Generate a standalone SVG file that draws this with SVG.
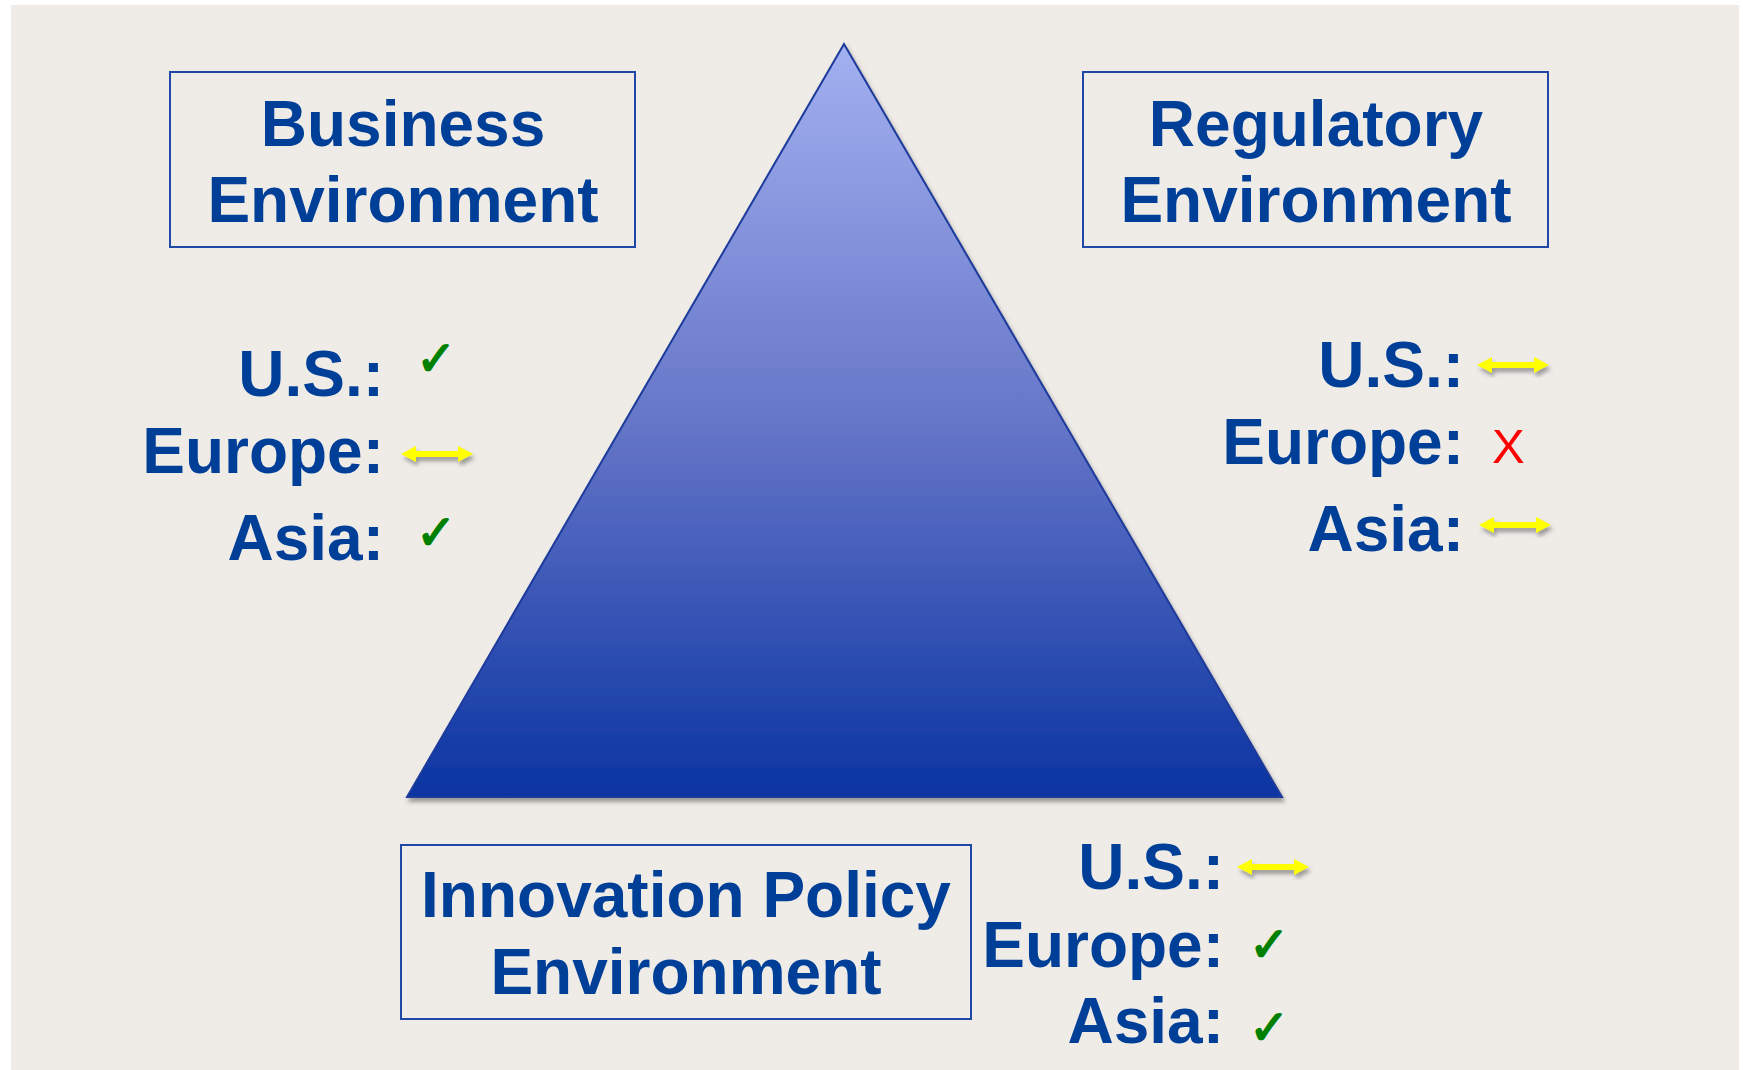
<svg xmlns="http://www.w3.org/2000/svg" width="1743" height="1070" viewBox="0 0 1743 1070">
  <defs>
    <linearGradient id="pyramidFill" x1="0" y1="0" x2="0" y2="1">
      <stop offset="0" stop-color="#A3B0F0"/>
      <stop offset="0.5" stop-color="#6676C8"/>
      <stop offset="1" stop-color="#0A34A2"/>
    </linearGradient>
    <filter id="dropShadow" x="-10%" y="-10%" width="130%" height="140%">
      <feGaussianBlur in="SourceAlpha" stdDeviation="2"/>
      <feOffset dx="2" dy="4" result="blur"/>
      <feFlood flood-color="#555" flood-opacity="0.55"/>
      <feComposite in2="blur" operator="in"/>
      <feMerge>
        <feMergeNode/>
        <feMergeNode in="SourceGraphic"/>
      </feMerge>
    </filter>
    <!-- yellow double-headed "neutral" arrow, centred on its origin -->
    <path id="both" d="M-36,0 L-21,-8 L-21,-3 L21,-3 L21,-8 L36,0 L21,8 L21,3 L-21,3 L-21,8 Z"/>
    <style>
      .box { fill: none; stroke: #2148A6; stroke-width: 2; }
      .title { font-family: "Liberation Sans", Arial, sans-serif; font-weight: bold; font-size: 64px; fill: #003F98; text-anchor: middle; }
      .label { font-family: "Liberation Sans", Arial, sans-serif; font-weight: bold; font-size: 64px; fill: #003F98; text-anchor: end; }
      .check { font-family: "DejaVu Sans", sans-serif; font-size: 48px; fill: #008000; stroke: #008000; stroke-width: 1.6; stroke-linejoin: round; }
      .cross { font-family: "Liberation Sans", Arial, sans-serif; font-size: 49px; fill: #FF0000; }
      .arrow { fill: #FFFF00; filter: url(#dropShadow); }
    </style>
  </defs>

  <!-- slide background -->
  <rect x="0" y="0" width="1743" height="1070" fill="#FFFFFF"/>
  <rect x="11" y="5" width="1728" height="1065" fill="#EFECE8"/>

  <!-- central pyramid -->
  <g id="pyramid">
    <polygon points="844,44 407,797 1282,797" fill="url(#pyramidFill)" stroke="#1B3A9A" stroke-width="2" filter="url(#dropShadow)"/>
  </g>

  <!-- business environment -->
  <g id="business">
    <rect class="box" x="170" y="72" width="465" height="175"/>
    <text class="title" x="403" y="146">Business</text>
    <text class="title" x="403" y="222">Environment</text>
  </g>
  <g id="business-ratings">
    <text class="label" x="384" y="396">U.S.:</text>
    <text class="label" x="384" y="473">Europe:</text>
    <text class="label" x="384" y="560">Asia:</text>
    <text class="check" x="416" y="375">✓</text>
    <use href="#both" class="arrow" x="437" y="454"/>
    <text class="check" x="416" y="549">✓</text>
  </g>

  <!-- regulatory environment -->
  <g id="regulatory">
    <rect class="box" x="1083" y="72" width="465" height="175"/>
    <text class="title" x="1316" y="146">Regulatory</text>
    <text class="title" x="1316" y="222">Environment</text>
  </g>
  <g id="regulatory-ratings">
    <text class="label" x="1464" y="387">U.S.:</text>
    <text class="label" x="1464" y="464">Europe:</text>
    <text class="label" x="1464" y="551">Asia:</text>
    <use href="#both" class="arrow" x="1513" y="365"/>
    <text class="cross" x="1492" y="463">X</text>
    <use href="#both" class="arrow" x="1515" y="525"/>
  </g>

  <!-- innovation policy environment -->
  <g id="innovation">
    <rect class="box" x="401" y="845" width="570" height="174"/>
    <text class="title" x="686" y="917">Innovation Policy</text>
    <text class="title" x="686" y="994">Environment</text>
  </g>
  <g id="innovation-ratings">
    <text class="label" x="1224" y="889">U.S.:</text>
    <text class="label" x="1224" y="967">Europe:</text>
    <text class="label" x="1224" y="1043">Asia:</text>
    <use href="#both" class="arrow" x="1273" y="867"/>
    <text class="check" x="1249" y="961">✓</text>
    <text class="check" x="1249" y="1044">✓</text>
  </g>
</svg>
